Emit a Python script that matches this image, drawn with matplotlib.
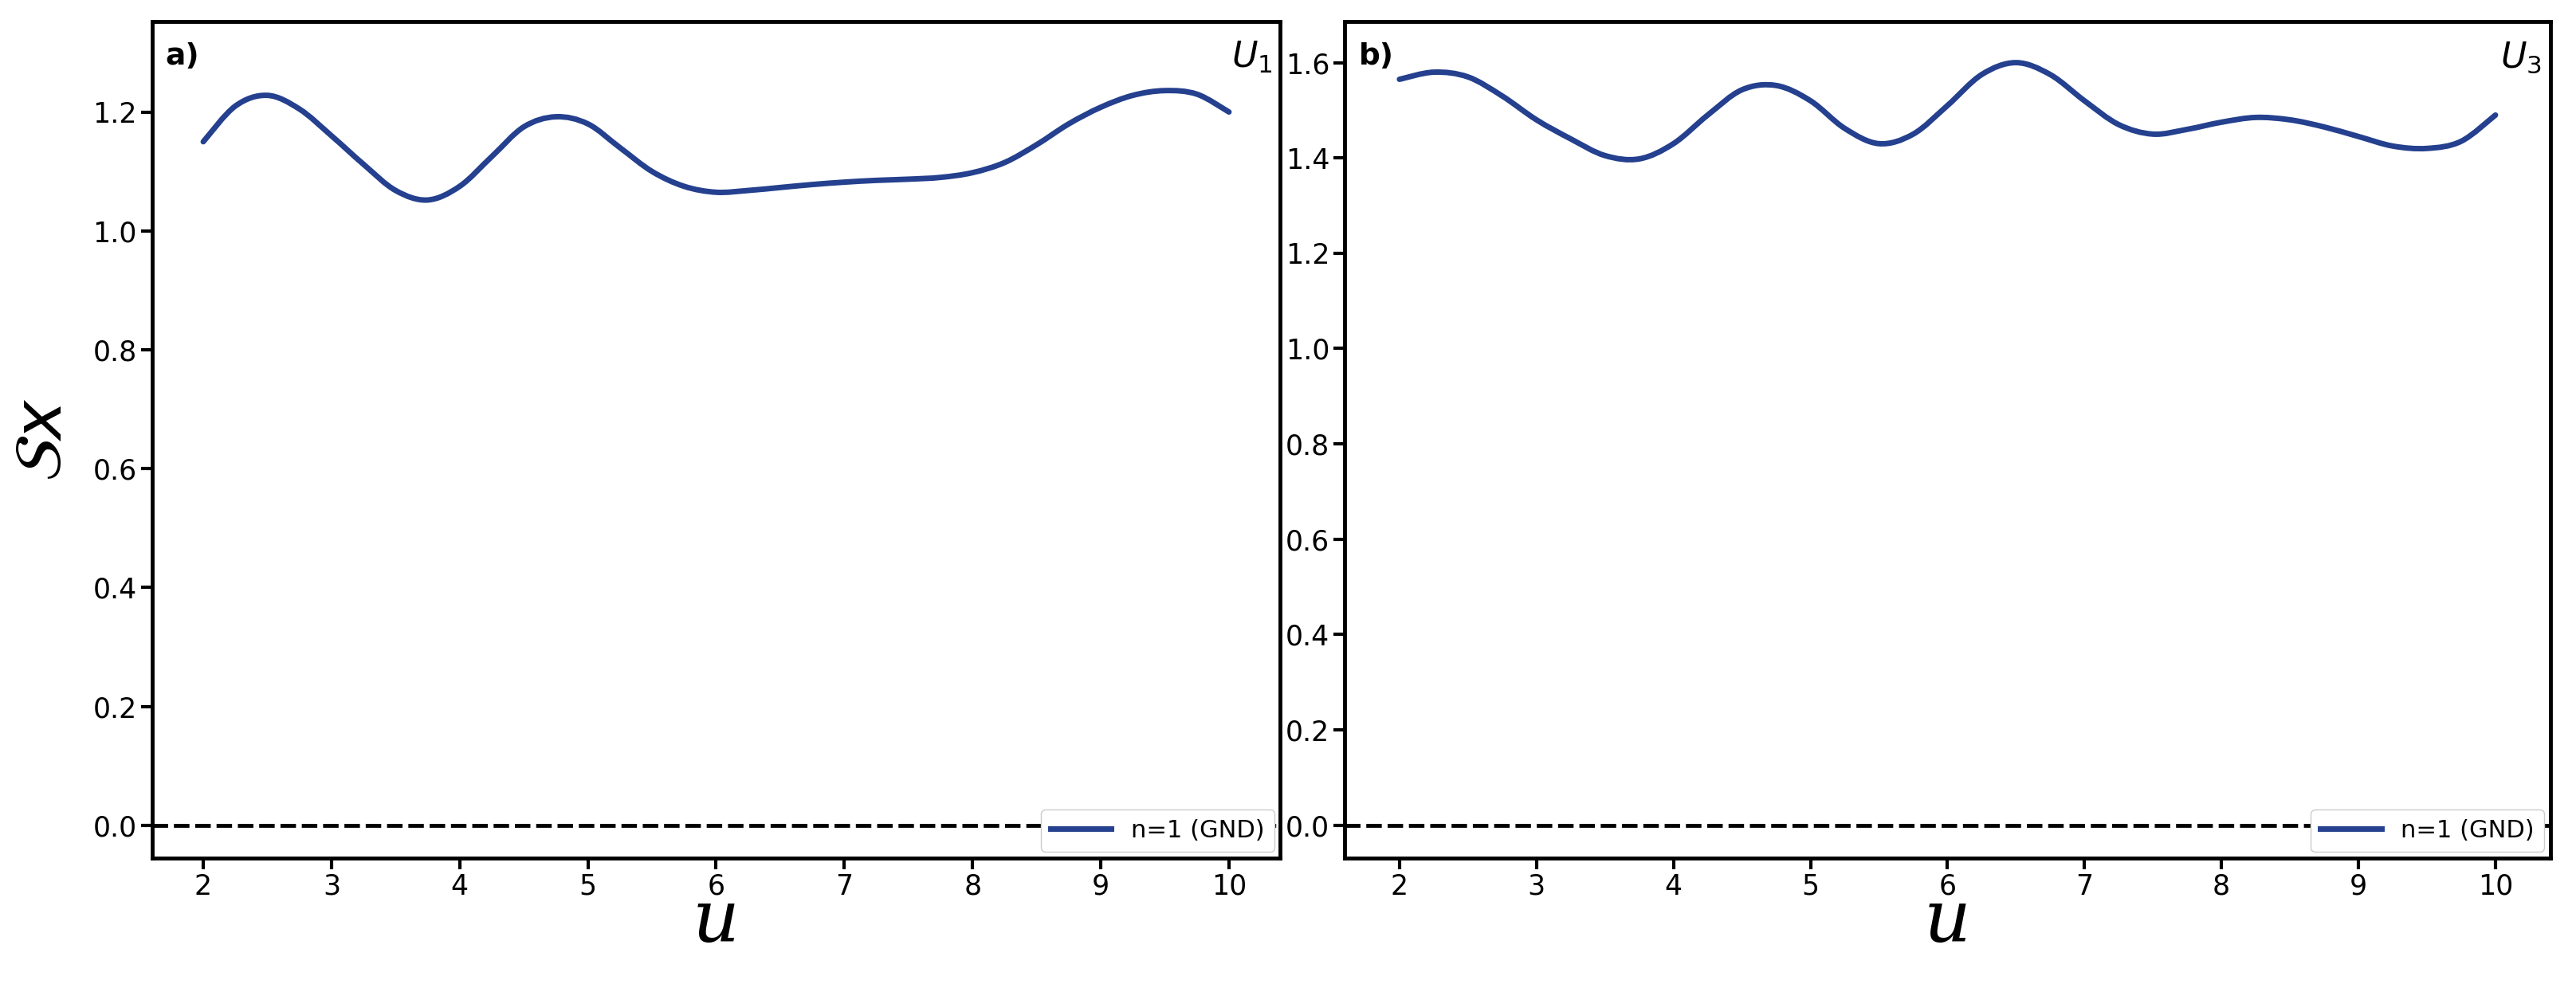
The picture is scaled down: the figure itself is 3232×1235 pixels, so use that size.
import numpy as np
import matplotlib
matplotlib.use("Agg")
import matplotlib.pyplot as plt
from matplotlib.path import Path
from matplotlib.patches import PathPatch
from matplotlib.lines import Line2D

# U1 panel
u_a = [2.0, 2.25, 2.5, 2.75, 3.0, 3.25, 3.5, 3.75, 4.0, 4.25, 4.5, 4.75, 5.0,
       5.25, 5.5, 5.75, 6.0, 6.25, 6.5, 6.75, 7.0, 7.25, 7.5, 7.75, 8.0, 8.25,
       8.5, 8.75, 9.0, 9.25, 9.5, 9.75, 10.0]
sx_a = [1.150, 1.210, 1.228, 1.205, 1.160, 1.112, 1.068, 1.052, 1.075, 1.125,
        1.175, 1.192, 1.180, 1.140, 1.100, 1.075, 1.065, 1.068, 1.073, 1.078,
        1.082, 1.085, 1.087, 1.090, 1.098, 1.115, 1.145, 1.180, 1.208, 1.228,
        1.236, 1.230, 1.200]

# U3 panel
u_b = [2.0, 2.25, 2.5, 2.75, 3.0, 3.25, 3.5, 3.75, 4.0, 4.25, 4.5, 4.75, 5.0,
       5.25, 5.5, 5.75, 6.0, 6.25, 6.5, 6.75, 7.0, 7.25, 7.5, 7.75, 8.0, 8.25,
       8.5, 8.75, 9.0, 9.25, 9.5, 9.75, 10.0]
sx_b = [1.565, 1.580, 1.570, 1.530, 1.480, 1.440, 1.405, 1.398, 1.430, 1.490,
        1.543, 1.552, 1.520, 1.462, 1.430, 1.450, 1.510, 1.575, 1.600, 1.575,
        1.520, 1.470, 1.450, 1.460, 1.475, 1.485, 1.480, 1.465, 1.445, 1.425,
        1.420, 1.435, 1.490]

zero_x = [1.6, 10.4]
zero_y = [0.0, 0.0]

LINE_C = "#24408e"


def smooth_path(x, y):
    # Catmull-Rom through the points, drawn as cubic Bezier segments
    p = np.column_stack([x, y])
    verts = [p[0]]
    codes = [Path.MOVETO]
    for i in range(len(p) - 1):
        p0 = p[i - 1] if i > 0 else p[i]
        p3 = p[i + 2] if i + 2 < len(p) else p[i + 1]
        c1 = p[i] + (p[i + 1] - p0) / 6
        c2 = p[i + 1] - (p3 - p[i]) / 6
        verts += [c1, c2, p[i + 1]]
        codes += [Path.CURVE4] * 3
    return Path(verts, codes)


fig = plt.figure(figsize=(32.32, 12.35), dpi=100)
ax_a = fig.add_axes([0.059, 0.128, 0.438, 0.850])
ax_b = fig.add_axes([0.522, 0.128, 0.468, 0.850])

panels = [
    (ax_a, u_a, sx_a, "a)", "$U_1$", (-0.055, 1.352), np.arange(0, 1.21, 0.2)),
    (ax_b, u_b, sx_b, "b)", "$U_3$", (-0.069, 1.686), np.arange(0, 1.61, 0.2)),
]

for ax, x, y, tag, ulab, ylim, yt in panels:
    ax.plot(zero_x, zero_y, "k--", lw=3.5, dashes=(4, 1.5))
    ax.add_patch(PathPatch(smooth_path(x, y), fill=False, ec=LINE_C, lw=5,
                           capstyle="round"))
    ax.set_xlim(1.6, 10.4)
    ax.set_ylim(*ylim)
    ax.set_xticks(range(2, 11))
    ax.set_yticks(yt)
    ax.set_yticklabels([f"{v:.1f}" for v in yt])
    ax.tick_params(labelsize=25, width=3, length=10)
    for s in ax.spines.values():
        s.set_linewidth(3.5)
    ax.text(0.012, 0.975, tag, transform=ax.transAxes, fontsize=27,
            fontweight="bold", va="top", ha="left")
    ax.text(0.993, 0.978, ulab, transform=ax.transAxes,
            fontsize=32, va="top", ha="right", math_fontfamily="dejavusans")
    ax.set_xlabel("u", fontsize=66, family="DejaVu Serif", style="italic",
                  labelpad=-12)
    handle = Line2D([], [], color=LINE_C, lw=5)
    leg = ax.legend([handle], ["n=1 (GND)"], loc="lower right", fontsize=22,
                    handlelength=2.5, borderaxespad=0.25, framealpha=1,
                    fancybox=True)
    leg.set_zorder(5)

ax_a.set_ylabel(r"$\mathcal{S}x$", fontsize=60, labelpad=16)

fig.savefig("out.png")
